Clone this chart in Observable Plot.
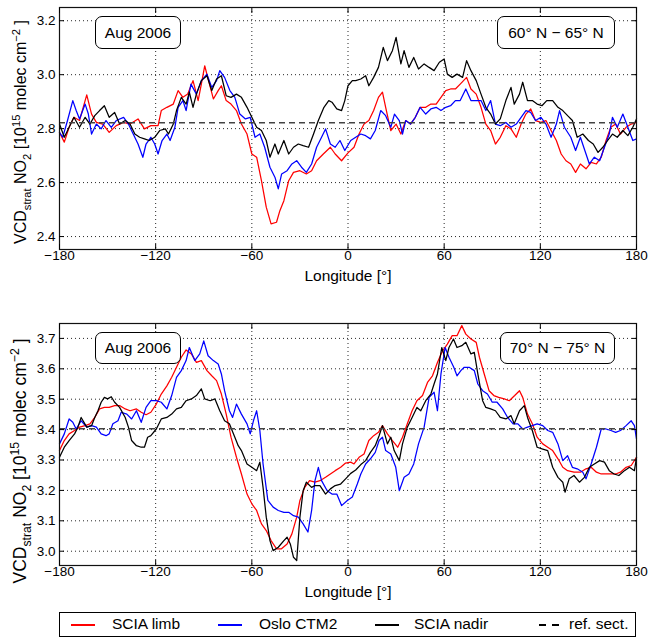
<!DOCTYPE html>
<html>
<head>
<meta charset="utf-8">
<script src="https://cdn.jsdelivr.net/npm/d3@7"></script>
<script src="https://cdn.jsdelivr.net/npm/@observablehq/plot@0.6"></script>
<style>
  body { margin: 0; background: white; }
  #wrap { position: relative; width: 649px; height: 638px; font-family: "Liberation Sans", Arial, sans-serif; color: black; }
  .note { position: absolute; box-sizing: border-box; border: 1px solid black; border-radius: 7px; background: white;
          display: flex; align-items: center; justify-content: center; font-size: 15.5px; white-space: nowrap; }
  #legend { position: absolute; left: 59px; top: 612px; width: 577px; height: 25px; box-sizing: border-box; border: 1px solid black; background: white; font-size: 15.5px; }
  .lline { position: absolute; top: 11px; height: 0; border-top: 2px solid; }
  .ltext { position: absolute; top: 2px; white-space: nowrap; }
</style>
</head>
<body>
<div id="wrap"></div>
<script>
// ---------------- data ----------------
const xTicks = [-180, -120, -60, 0, 60, 120, 180];
const yTicks60 = [2.4, 2.6, 2.8, 3.0, 3.2];
const yTicks70 = [3.0, 3.1, 3.2, 3.3, 3.4, 3.5, 3.6, 3.7];
const seriesNames = ["SCIA limb", "Oslo CTM2", "SCIA nadir", "ref. sect."];
const seriesColors = ["#ff0000", "#0000ff", "#000000", "#444444"];
const panelLatitudes = ["60° N − 65° N", "70° N − 75° N"];
const periodLabel = "Aug 2006";
const ref60 = 2.822;
const ref70 = 3.403;

// 60N-65N panel: [longitude, VCD]
const limb60 = [[-180,2.786],[-177,2.75],[-174,2.805],[-171,2.842],[-167.5,2.83],[-163,2.925],[-160,2.854],[-157,2.823],[-153,2.817],[-149,2.786],[-144.6,2.811],[-140,2.823],[-136,2.817],[-131,2.836],[-127,2.799],[-123,2.811],[-118.5,2.811],[-116.5,2.867],[-113,2.879],[-109,2.891],[-106,2.941],[-103,2.916],[-100,2.928],[-96.7,2.978],[-93.5,2.904],[-91.5,2.965],[-89.4,3.033],[-87,2.978],[-84,2.91],[-81,2.941],[-79,2.959],[-76,2.904],[-73,2.891],[-69.6,2.867],[-66.5,2.817],[-63,2.78],[-60,2.706],[-57,2.694],[-54,2.607],[-51,2.509],[-48,2.447],[-44.6,2.453],[-42.5,2.496],[-40,2.533],[-37,2.607],[-34,2.638],[-30,2.644],[-26,2.632],[-22.7,2.644],[-19.6,2.681],[-15.4,2.706],[-11,2.731],[-8,2.706],[-4,2.681],[0,2.71],[3.75,2.731],[6.9,2.78],[10,2.817],[13,2.83],[16,2.867],[19,2.916],[21.5,2.935],[23.5,2.879],[26.7,2.793],[30,2.817],[33,2.78],[36,2.83],[39,2.817],[42,2.842],[45,2.879],[48.5,2.879],[51.7,2.891],[55,2.891],[58,2.916],[61,2.941],[64,2.947],[67,2.947],[70,2.965],[74,2.99],[76.7,2.947],[80,2.928],[83,2.879],[86,2.817],[89,2.793],[92,2.743],[95,2.768],[98.5,2.811],[101.7,2.799],[105,2.768],[108,2.817],[111,2.854],[114,2.873],[117,2.83],[120.4,2.823],[123.5,2.83],[126.7,2.793],[130,2.756],[133,2.706],[136,2.681],[139,2.669],[142,2.638],[145,2.669],[148.5,2.651],[151.7,2.675],[155,2.669],[158,2.694],[161,2.756],[164,2.805],[167,2.817],[170,2.78],[173.5,2.805],[176.7,2.817],[180,2.823]];
const ctm60 = [[-180,2.786],[-178,2.768],[-175,2.83],[-171.7,2.904],[-169.6,2.867],[-167.5,2.836],[-164,2.891],[-162,2.854],[-160,2.78],[-157,2.817],[-154,2.799],[-151,2.83],[-147.7,2.805],[-144.6,2.83],[-140,2.842],[-137,2.817],[-134,2.78],[-131,2.743],[-128,2.694],[-126,2.743],[-123,2.768],[-120.6,2.743],[-118.5,2.706],[-116,2.756],[-113,2.78],[-111,2.756],[-108,2.805],[-106,2.879],[-103,2.904],[-101,2.867],[-98,2.965],[-94.6,2.928],[-91.5,2.978],[-88,3.002],[-85,2.953],[-82,2.978],[-80,3.015],[-77,2.99],[-73.7,2.941],[-70.6,2.916],[-67.5,2.854],[-64,2.836],[-61,2.842],[-58,2.768],[-55,2.78],[-52,2.731],[-48.7,2.657],[-45.6,2.62],[-43.5,2.577],[-41.4,2.632],[-38,2.644],[-35,2.669],[-32,2.681],[-29,2.657],[-26,2.638],[-22.7,2.669],[-19.6,2.731],[-16.5,2.768],[-14,2.799],[-11,2.743],[-8,2.731],[-5,2.756],[-2,2.719],[1.7,2.756],[4.8,2.768],[8,2.78],[11,2.774],[14,2.762],[17,2.793],[20.4,2.867],[23.5,2.848],[26.7,2.805],[29,2.854],[32,2.83],[34,2.78],[36,2.83],[39,2.817],[42,2.842],[45,2.879],[48.5,2.854],[51.7,2.873],[55,2.879],[58,2.867],[61,2.879],[64,2.885],[67,2.904],[70,2.904],[73.5,2.947],[76.7,2.904],[80,2.904],[83,2.904],[86,2.867],[89,2.904],[92,2.817],[95,2.811],[98.5,2.823],[101.7,2.805],[105,2.817],[108,2.842],[111,2.867],[114,2.86],[117,2.83],[120.4,2.842],[123.5,2.817],[126.7,2.768],[130,2.817],[132,2.867],[135,2.805],[139,2.768],[142,2.719],[145,2.768],[148.5,2.706],[150.6,2.669],[153.7,2.694],[157,2.681],[160,2.731],[163,2.78],[165,2.842],[168,2.805],[171.5,2.854],[174.6,2.805],[177.7,2.756],[180,2.762]];
const nadir60 = [[-180,2.817],[-177,2.768],[-174,2.805],[-171,2.842],[-167.5,2.805],[-164,2.842],[-161,2.817],[-158,2.848],[-155,2.867],[-152,2.885],[-149,2.842],[-145.6,2.86],[-142.5,2.817],[-139,2.83],[-136,2.817],[-133,2.78],[-130,2.768],[-127,2.762],[-124,2.756],[-120.6,2.768],[-117.5,2.793],[-114,2.799],[-112,2.78],[-109,2.817],[-107,2.867],[-104,2.916],[-101,2.891],[-99,2.935],[-96.7,2.879],[-94.6,2.928],[-91.5,2.978],[-88,2.996],[-85,2.941],[-82,2.984],[-79,2.996],[-76,2.922],[-73,2.916],[-69.6,2.928],[-66.5,2.916],[-63,2.879],[-60,2.842],[-57,2.805],[-54,2.793],[-51,2.756],[-48.7,2.694],[-45.6,2.743],[-43.5,2.706],[-40,2.756],[-37,2.706],[-34,2.731],[-31,2.743],[-28,2.737],[-24.6,2.731],[-21.5,2.78],[-18.5,2.83],[-15,2.879],[-12,2.904],[-10,2.898],[-7,2.873],[-4,2.867],[-2,2.904],[0,2.959],[2.7,2.978],[4.8,2.978],[8,2.984],[11,2.996],[13,2.959],[16,2.99],[19,3.027],[22,3.101],[24.6,3.052],[27.7,3.089],[30,3.138],[33,3.04],[35,3.089],[38,3.027],[41,3.064],[44,3.021],[47.5,3.04],[50.6,3.027],[53.7,3.015],[57,3.046],[60,3.058],[62,3.002],[65,2.99],[68,3.002],[71.5,2.99],[74,3.052],[76.7,3.015],[80,2.978],[83,2.928],[86,2.879],[89,2.854],[92,2.817],[95,2.836],[98.5,2.904],[101.7,2.953],[103.7,2.891],[107,2.928],[109,2.972],[112,2.904],[115,2.904],[118,2.891],[121,2.885],[124,2.904],[127.7,2.904],[131,2.879],[134,2.867],[137,2.848],[140,2.83],[143,2.768],[146.5,2.78],[150,2.756],[153,2.743],[156,2.712],[159,2.731],[162,2.756],[165,2.78],[168,2.768],[171.5,2.793],[174.6,2.774],[177.7,2.805],[180,2.836]];

// 70N-75N panel: [longitude, VCD]
const limb70 = [[-180,3.331],[-177,3.364],[-174,3.386],[-170.6,3.397],[-167.5,3.408],[-164,3.413],[-161,3.419],[-158,3.44],[-155,3.468],[-152,3.473],[-149,3.473],[-145.6,3.479],[-142.5,3.479],[-139,3.468],[-136,3.462],[-132,3.468],[-129,3.457],[-126,3.449],[-123,3.457],[-119.6,3.484],[-116.5,3.517],[-113,3.544],[-110,3.572],[-107,3.605],[-104,3.638],[-101,3.662],[-97.7,3.649],[-94.6,3.621],[-91.5,3.627],[-88,3.594],[-85,3.577],[-82,3.561],[-79,3.517],[-76,3.451],[-73,3.375],[-69.6,3.309],[-66.5,3.254],[-63,3.188],[-60,3.156],[-57,3.134],[-54,3.09],[-51,3.068],[-48,3.035],[-44.6,3.008],[-41.5,3.008],[-38,3.024],[-35,3.057],[-32,3.112],[-30,3.167],[-27,3.21],[-24,3.232],[-20.6,3.227],[-17.5,3.232],[-14,3.243],[-11,3.254],[-8,3.265],[-4.6,3.276],[-1.5,3.29],[1.7,3.293],[3.75,3.287],[6.9,3.309],[10,3.32],[13,3.364],[16,3.38],[19,3.391],[21.5,3.413],[24.6,3.386],[27.7,3.364],[31,3.342],[34,3.375],[37,3.419],[40,3.462],[43,3.495],[46.5,3.512],[49.6,3.555],[52.7,3.577],[55.8,3.621],[59,3.659],[62,3.681],[65,3.709],[68,3.709],[71,3.742],[73.5,3.714],[76.7,3.698],[80,3.687],[82,3.638],[85,3.583],[88,3.528],[91,3.512],[94,3.506],[97.5,3.501],[100.6,3.495],[104,3.512],[107,3.528],[109,3.506],[112,3.451],[115,3.419],[118,3.375],[121.5,3.353],[124.6,3.342],[127.7,3.331],[131,3.304],[134,3.276],[137,3.265],[141,3.26],[145,3.26],[148.5,3.271],[151.7,3.276],[155,3.26],[158,3.254],[161,3.254],[164,3.254],[167,3.254],[170,3.26],[173.5,3.276],[176.7,3.282],[180,3.309]];
const ctm70 = [[-180,3.353],[-177,3.386],[-174,3.435],[-171.7,3.424],[-169.6,3.402],[-166.5,3.429],[-163,3.408],[-160,3.413],[-157,3.408],[-154,3.386],[-151,3.38],[-149,3.386],[-146.7,3.419],[-143.5,3.429],[-141.5,3.457],[-138,3.451],[-135,3.435],[-132,3.462],[-129,3.424],[-126,3.473],[-123,3.495],[-119.6,3.495],[-116.5,3.49],[-113,3.468],[-110,3.512],[-107,3.572],[-104,3.594],[-101,3.627],[-99,3.67],[-95.6,3.627],[-92.5,3.649],[-90,3.692],[-87.3,3.643],[-84,3.627],[-81,3.616],[-79,3.583],[-77,3.528],[-74,3.462],[-72,3.44],[-69.6,3.484],[-66.5,3.451],[-63,3.419],[-61,3.386],[-59,3.429],[-57,3.462],[-55,3.397],[-53,3.287],[-50,3.167],[-46.7,3.145],[-43.5,3.134],[-40,3.128],[-37,3.128],[-34,3.117],[-31,3.112],[-28,3.09],[-25,3.063],[-22.7,3.134],[-20.6,3.232],[-18.5,3.276],[-16.5,3.232],[-13,3.199],[-10,3.188],[-7,3.188],[-4,3.15],[-0.4,3.167],[2.7,3.178],[5.8,3.221],[8,3.254],[11,3.287],[14,3.304],[17,3.325],[19.4,3.364],[21.5,3.375],[23.5,3.331],[26.7,3.32],[29.8,3.276],[32,3.199],[35,3.243],[38,3.254],[41,3.287],[44,3.353],[47.5,3.408],[50.6,3.506],[53.7,3.523],[55.8,3.462],[58,3.583],[60.6,3.67],[63,3.638],[66,3.605],[68,3.577],[70.4,3.594],[72.5,3.605],[75.6,3.605],[78.8,3.594],[81,3.55],[84,3.528],[87,3.517],[90,3.49],[93,3.49],[96.5,3.468],[99.6,3.44],[103,3.419],[106,3.419],[109,3.402],[112,3.408],[115,3.413],[118,3.419],[121.5,3.413],[124.6,3.397],[127.7,3.391],[131,3.353],[134,3.298],[137,3.314],[140,3.276],[143,3.271],[146.5,3.26],[148.5,3.238],[151.7,3.287],[155,3.342],[158,3.402],[161,3.402],[164,3.397],[167,3.391],[170,3.397],[173.5,3.413],[176.7,3.429],[178.7,3.413],[180,3.369]];
const nadir70 = [[-180,3.309],[-177,3.342],[-174,3.364],[-170.6,3.386],[-168.5,3.408],[-166.5,3.44],[-163,3.408],[-160,3.413],[-158,3.44],[-156,3.462],[-154,3.49],[-152,3.506],[-150,3.501],[-147.7,3.508],[-145.6,3.49],[-142.5,3.473],[-139,3.44],[-137,3.408],[-135,3.364],[-132,3.347],[-129,3.342],[-127,3.342],[-125,3.375],[-123,3.38],[-119.6,3.402],[-116.5,3.435],[-113,3.44],[-110,3.451],[-107,3.468],[-104,3.473],[-101,3.495],[-97.7,3.501],[-94.6,3.512],[-91.5,3.534],[-89.4,3.501],[-86,3.495],[-83,3.501],[-80,3.462],[-77,3.429],[-74,3.419],[-70.6,3.375],[-68.5,3.347],[-66.5,3.331],[-63,3.287],[-60,3.276],[-57,3.265],[-55,3.293],[-53,3.21],[-51,3.112],[-48.7,3.035],[-46.7,3.002],[-43.5,3.013],[-40,3.035],[-38,3.046],[-36,3.024],[-34,2.98],[-32,2.969],[-30,3.112],[-28,3.199],[-26,3.227],[-22.7,3.21],[-20.6,3.216],[-17.5,3.216],[-14,3.188],[-11,3.205],[-8,3.216],[-4.6,3.221],[-1.5,3.238],[1.7,3.256],[4.8,3.267],[8,3.285],[11,3.298],[14,3.325],[17,3.347],[19.4,3.38],[21.5,3.413],[24.6,3.353],[26.7,3.375],[28.8,3.331],[32,3.298],[34,3.353],[37,3.408],[40,3.44],[43,3.473],[45.4,3.462],[48.5,3.495],[51.7,3.517],[53.7,3.55],[55.8,3.583],[58.5,3.67],[61,3.627],[63,3.67],[65.8,3.698],[68,3.67],[71,3.676],[73.5,3.687],[76.7,3.649],[78.8,3.654],[81,3.583],[84,3.495],[86,3.473],[89,3.468],[92,3.462],[95,3.44],[98.5,3.435],[101.7,3.446],[103.7,3.419],[107,3.462],[110,3.479],[112,3.44],[115,3.397],[118,3.342],[121.5,3.336],[124.6,3.331],[127.7,3.276],[131,3.243],[134,3.227],[135.4,3.194],[138,3.238],[141,3.249],[144.4,3.227],[147.5,3.243],[150.6,3.276],[153.7,3.287],[157,3.298],[160,3.293],[163,3.265],[166,3.254],[169,3.249],[172.5,3.265],[175.6,3.276],[178.7,3.265],[180,3.309]];

// ---------------- drawing ----------------
const FONT = '"Liberation Sans", Arial, Helvetica, sans-serif';
const wrap = document.getElementById("wrap");
const fmtX = d => d < 0 ? "\u2212" + Math.abs(d) : String(d);
const fmtY = d3.format(".1f");

function panel({limb, ctm, nadir, ref, yDomain, yTicks, height, marginTop, marginBottom}) {
  const xy = {x: d => d[0], y: d => d[1], strokeWidth: 1.25};
  const grid = {stroke: "black", strokeOpacity: 0.85, strokeWidth: 1, strokeDasharray: "1,3"};
  return Plot.plot({
    width: 649, height, marginLeft: 59, marginRight: 13, marginTop, marginBottom,
    style: {fontFamily: FONT, fontSize: "13.5px", color: "black", background: "white", overflow: "visible"},
    x: {domain: [-180, 180], label: null},
    y: {domain: yDomain, label: null},
    marks: [
      Plot.gridX(xTicks, grid),
      Plot.gridY(yTicks, grid),
      Plot.line(limb, {...xy, stroke: seriesColors[0]}),
      Plot.line(ctm, {...xy, stroke: seriesColors[1]}),
      Plot.line(nadir, {...xy, stroke: seriesColors[2]}),
      Plot.ruleY([ref], {stroke: seriesColors[3], strokeWidth: 1.6, strokeDasharray: "6,4"}),
      Plot.frame({stroke: "#111", strokeWidth: 1.2}),
      Plot.axisX(xTicks, {anchor: "bottom", tickSize: -5, tickPadding: 6, tickFormat: fmtX, label: null, fontSize: 13.5}),
      Plot.axisX(xTicks, {anchor: "top", tickSize: -5, tickFormat: () => "", label: null}),
      Plot.axisY(yTicks, {anchor: "left", tickSize: -5, tickPadding: 9, tickFormat: fmtY, label: null, fontSize: 13.5}),
      Plot.axisY(yTicks, {anchor: "right", tickSize: -5, tickFormat: () => "", label: null}),
      Plot.text(["Longitude [°]"], {text: d => d, frameAnchor: "bottom", dy: 31, fontSize: 15.5})
    ]
  });
}

function yLabel(svg, cy, size) {
  const small = size * 0.7;
  const t = d3.select(svg).append("text")
    .attr("transform", `translate(26,${cy}) rotate(-90)`)
    .attr("text-anchor", "middle")
    .attr("font-family", FONT)
    .attr("font-size", size)
    .attr("fill", "black");
  t.append("tspan").text("VCD");
  t.append("tspan").attr("font-size", small).attr("dy", size * 0.3).text("strat");
  t.append("tspan").attr("dy", -size * 0.3).text(" NO");
  t.append("tspan").attr("font-size", small).attr("dy", size * 0.3).text("2");
  t.append("tspan").attr("dy", -size * 0.3).text(" [10");
  t.append("tspan").attr("font-size", small).attr("dy", -size * 0.4).text("15");
  t.append("tspan").attr("dy", size * 0.4).text(" molec cm");
  t.append("tspan").attr("font-size", small).attr("dy", -size * 0.4).text("\u22122");
  t.append("tspan").attr("dy", size * 0.4).text(" ]");
}

const topPlot = panel({limb: limb60, ctm: ctm60, nadir: nadir60, ref: ref60,
  yDomain: [2.352, 3.249], yTicks: yTicks60, height: 290, marginTop: 7, marginBottom: 41});
topPlot.style.position = "absolute"; topPlot.style.left = "0px"; topPlot.style.top = "0px";
yLabel(topPlot, 132, 16);
wrap.appendChild(topPlot);

const botPlot = panel({limb: limb70, ctm: ctm70, nadir: nadir70, ref: ref70,
  yDomain: [2.953, 3.749], yTicks: yTicks70, height: 310, marginTop: 23, marginBottom: 45});
botPlot.style.position = "absolute"; botPlot.style.left = "0px"; botPlot.style.top = "300px";
yLabel(botPlot, 161, 17.5);
wrap.appendChild(botPlot);

// annotation boxes
function note(text, left, topPx, width, height) {
  const d = document.createElement("div");
  d.className = "note";
  d.style.left = left + "px"; d.style.top = topPx + "px";
  d.style.width = width + "px"; d.style.height = height + "px";
  d.textContent = text;
  wrap.appendChild(d);
}
note(periodLabel, 95, 16, 86, 33);
note(panelLatitudes[0], 497, 16, 118, 33);
note(periodLabel, 95, 332, 86, 32);
note(panelLatitudes[1], 500, 332, 115, 32);

// legend
const legend = document.createElement("div");
legend.id = "legend";
wrap.appendChild(legend);
const items = [
  {lineLeft: 11, textLeft: 52, dashed: false},
  {lineLeft: 158, textLeft: 199, dashed: false},
  {lineLeft: 315, textLeft: 354, dashed: false},
  {lineLeft: 479, textLeft: 509, dashed: true}
];
items.forEach((it, i) => {
  if (it.dashed) {
    [0, 13].forEach(off => {
      const l = document.createElement("div");
      l.className = "lline";
      l.style.left = (it.lineLeft + off) + "px"; l.style.width = "7px";
      l.style.borderTopColor = "black";
      legend.appendChild(l);
    });
  } else {
    const l = document.createElement("div");
    l.className = "lline";
    l.style.left = it.lineLeft + "px"; l.style.width = "24px";
    l.style.borderTopColor = seriesColors[i];
    legend.appendChild(l);
  }
  const t = document.createElement("div");
  t.className = "ltext";
  t.style.left = it.textLeft + "px";
  t.textContent = seriesNames[i];
  legend.appendChild(t);
});
</script>
</body>
</html>
